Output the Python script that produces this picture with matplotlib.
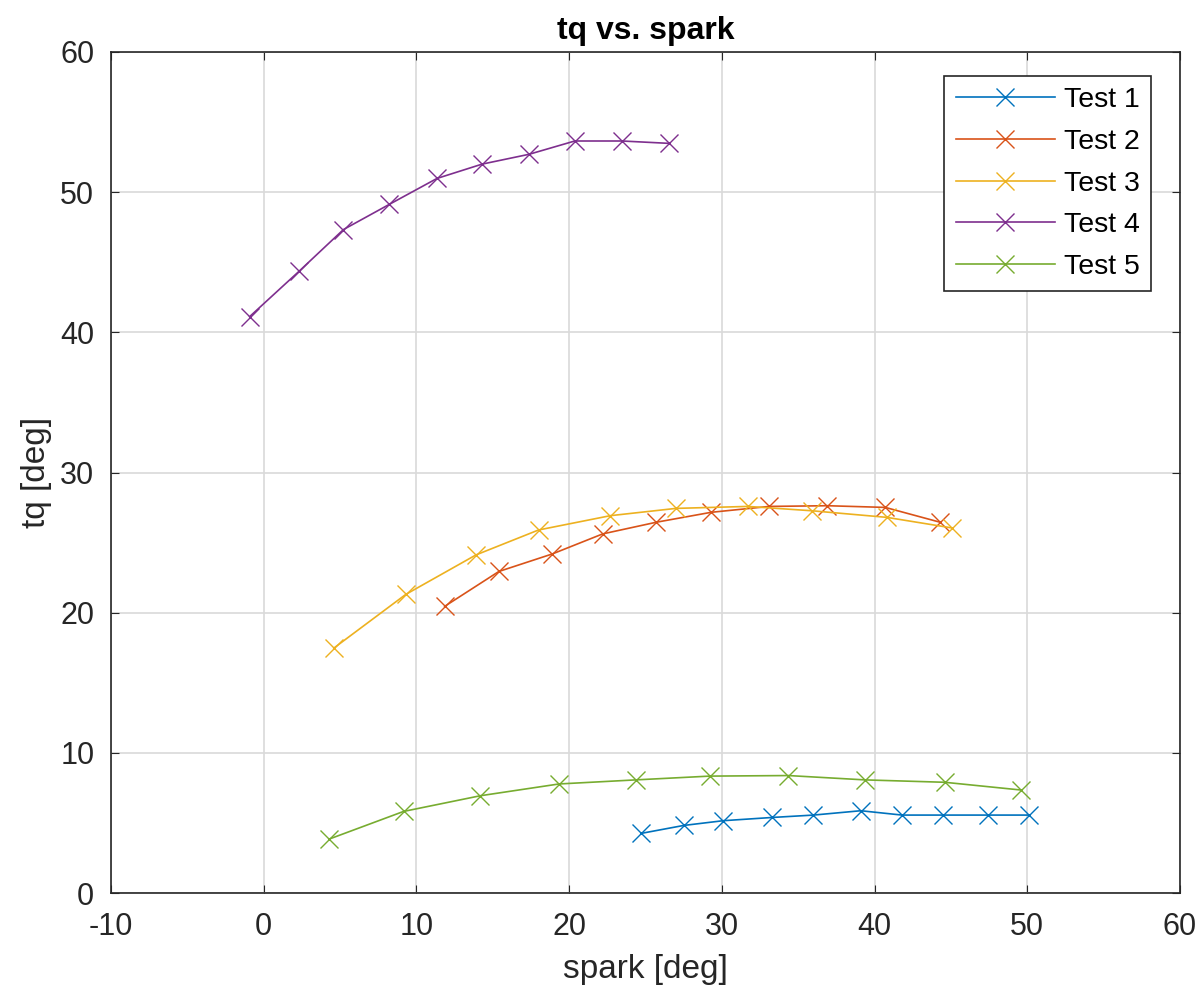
import matplotlib.pyplot as plt

plt.rcParams['font.family'] = ['Liberation Sans', 'DejaVu Sans']
plt.rcParams['axes.unicode_minus'] = False

# spark [deg] / tq [deg] for each test
spark1 = [24.7, 27.5, 30.1, 33.3, 36.0, 39.1, 41.8, 44.5, 47.4, 50.1]
tq1 = [4.25, 4.82, 5.16, 5.39, 5.56, 5.87, 5.56, 5.56, 5.56, 5.56]

spark2 = [11.85, 15.4, 18.9, 22.2, 25.7, 29.3, 33.1, 36.9, 40.7, 44.3]
tq2 = [20.45, 22.94, 24.19, 25.62, 26.45, 27.16, 27.58, 27.63, 27.51, 26.45]

spark3 = [4.59, 9.3, 13.9, 18.0, 22.7, 27.0, 31.7, 35.9, 40.8, 45.1]
tq3 = [17.47, 21.3, 24.12, 25.9, 26.92, 27.44, 27.58, 27.27, 26.8, 26.04]

spark4 = [-0.92, 2.3, 5.22, 8.21, 11.35, 14.3, 17.37, 20.37, 23.46, 26.57]
tq4 = [41.12, 44.34, 47.33, 49.12, 50.98, 52.0, 52.7, 53.65, 53.65, 53.48]

spark5 = [4.27, 9.16, 14.19, 19.34, 24.35, 29.2, 34.35, 39.38, 44.59, 49.57]
tq5 = [3.84, 5.82, 6.94, 7.78, 8.07, 8.34, 8.38, 8.07, 7.90, 7.35]

labels = ['Test 1', 'Test 2', 'Test 3', 'Test 4', 'Test 5']
colors = ['#0072BD', '#D95319', '#EDB120', '#7E2F8E', '#77AC30']

fig = plt.figure(figsize=(12.01, 9.96), dpi=100)
ax = fig.add_axes([0.0924, 0.1034, 0.8901, 0.8444])

data = [(spark1, tq1), (spark2, tq2), (spark3, tq3), (spark4, tq4), (spark5, tq5)]
for (x, y), lab, c in zip(data, labels, colors):
    ax.plot(x, y, color=c, marker='x', markersize=12.5, markeredgewidth=1.0,
            linewidth=1.2, label=lab)

ax.set_xlim(-10, 60)
ax.set_ylim(0, 60)
ax.set_xticks(range(-10, 61, 10))
ax.set_yticks(range(0, 61, 10))
ax.grid(True, color='#d9d9d9', linewidth=1.2)
ax.set_axisbelow(True)
ax.tick_params(direction='in', labelsize=22, colors='#262626', length=6,
               top=True, right=True, labeltop=False, labelright=False)
ax.tick_params(axis='x', pad=14)
ax.tick_params(axis='y', pad=12)
for s in ax.spines.values():
    s.set_color('#262626')
    s.set_linewidth(1.2)

ax.set_title('tq vs. spark', fontsize=23, fontweight='bold', pad=9)
ax.set_xlabel('spark [deg]', fontsize=24, color='#262626', labelpad=8)
ax.set_ylabel('tq [deg]', fontsize=24, color='#262626', labelpad=6)

leg = ax.legend(loc='upper right', bbox_to_anchor=(0.973, 0.9715), fontsize=20.5,
                fancybox=False, edgecolor='#262626', framealpha=1,
                borderaxespad=0, handlelength=3.5, labelspacing=0.55,
                borderpad=0.4, handletextpad=0.3)
leg.get_frame().set_linewidth(1.2)

fig.savefig('out.png', dpi=100)
